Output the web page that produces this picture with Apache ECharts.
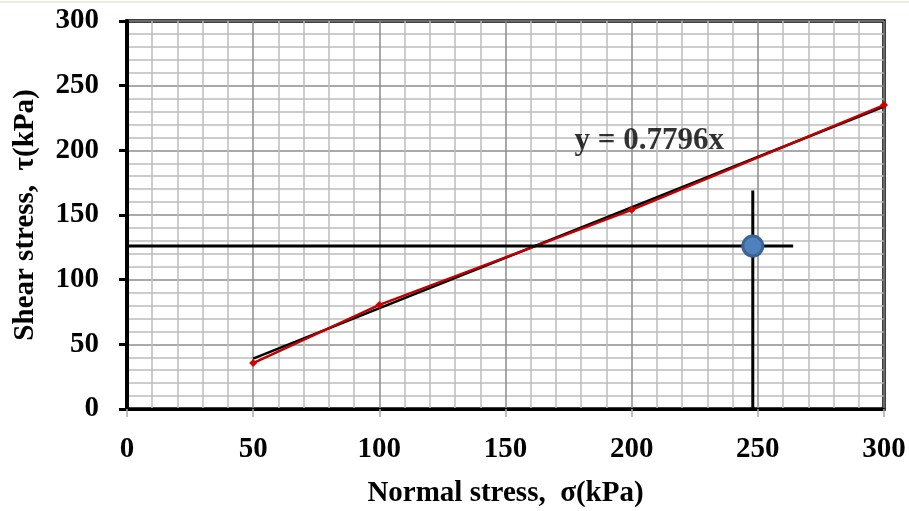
<!DOCTYPE html>
<html><head><meta charset="utf-8">
<script src="https://cdn.jsdelivr.net/npm/echarts@6/dist/echarts.min.js"></script>
<style>html,body{margin:0;padding:0;background:#fff}#c{width:909px;height:511px}</style>
</head><body><div id="c"></div>
<script>
const normalStress = [50, 100, 200, 300];
const shearStress = [35.5, 80.5, 154, 235];
const slope = 0.7796;
const trendX = [50, 300];
const horizLineY = 126;
const horizLineX = [0, 264];
const vertLineX = 248;
const vertLineY = [0, 169];
const pointX = 248, pointY = 126;
const equationText = 'y = 0.7796x';
const eqPos = [207, 207];

const font = '"Liberation Serif", "Times New Roman", serif';
const chart = echarts.init(document.getElementById('c'));
chart.setOption({
  animation: false,
  graphic: [{type:'line', shape:{x1:0,y1:2,x2:909,y2:2}, style:{stroke:'#ece6cf', lineWidth:1.5}}],
  grid: {left:127, right:25, top:21, bottom:102, show:true, borderColor:'#000', borderWidth:3.5, outerBoundsMode:'none', containLabel:false},
  xAxis: {
    type:'value', min:0, max:300, interval:50,
    name:'Normal stress,  σ(kPa)', nameLocation:'middle', nameGap:70,
    nameTextStyle:{fontFamily:font, fontWeight:'bold', fontSize:29, color:'#000'},
    axisLine:{show:true, onZero:false, lineStyle:{color:'#000', width:3}},
    axisTick:{show:true, length:8, lineStyle:{color:'#aaa', width:1.5}},
    axisLabel:{fontFamily:font, fontWeight:'bold', fontSize:29, color:'#000', margin:26},
    splitLine:{show:true, lineStyle:{color:'#8c8c8c', width:1.5}},
    minorTick:{show:false, splitNumber:5},
    minorSplitLine:{show:true, lineStyle:{color:'#bdbdbd', width:1.5}}
  },
  yAxis: {
    type:'value', min:0, max:300, interval:50,
    name:'Shear stress,  τ(kPa)', nameLocation:'middle', nameGap:87,
    nameTextStyle:{fontFamily:font, fontWeight:'bold', fontSize:29, color:'#000'},
    axisLine:{show:true, onZero:false, lineStyle:{color:'#000', width:4}},
    axisTick:{show:true, length:8, lineStyle:{color:'#000', width:3}},
    axisLabel:{fontFamily:font, fontWeight:'bold', fontSize:29, color:'#000', margin:28},
    splitLine:{show:true, lineStyle:{color:'#8c8c8c', width:1.5}},
    minorTick:{show:false, splitNumber:5},
    minorSplitLine:{show:true, lineStyle:{color:'#bdbdbd', width:1.5}}
  },
  series: [
    {type:'line', data: trendX.map(x=>[x, slope*x]), symbol:'none',
      lineStyle:{color:'#000', width:2.5}, z:3},
    {type:'line', data: normalStress.map((x,i)=>[x, shearStress[i]]), symbol:'diamond', symbolSize:8,
      itemStyle:{color:'#d00000'}, lineStyle:{color:'#c00000', width:2.5}, z:4},
    {type:'line', data: horizLineX.map(x=>[x, horizLineY]), symbol:'none',
      lineStyle:{color:'#000', width:3}, z:5},
    {type:'line', data: vertLineY.map(y=>[vertLineX, y]), symbol:'none',
      lineStyle:{color:'#000', width:3}, z:5},
    {type:'scatter', data:[[pointX, pointY]], symbol:'circle', symbolSize:20,
      itemStyle:{color:'#4f81bd', borderColor:'#3a6497', borderWidth:3, opacity:1}, z:6},
    {type:'scatter', data:[eqPos], symbolSize:0, silent:true,
      label:{show:true, position:'inside', formatter:equationText, fontFamily:font, fontWeight:'bold', fontSize:31, color:'#000'}, z:7}
  ]
});
</script></body></html>
